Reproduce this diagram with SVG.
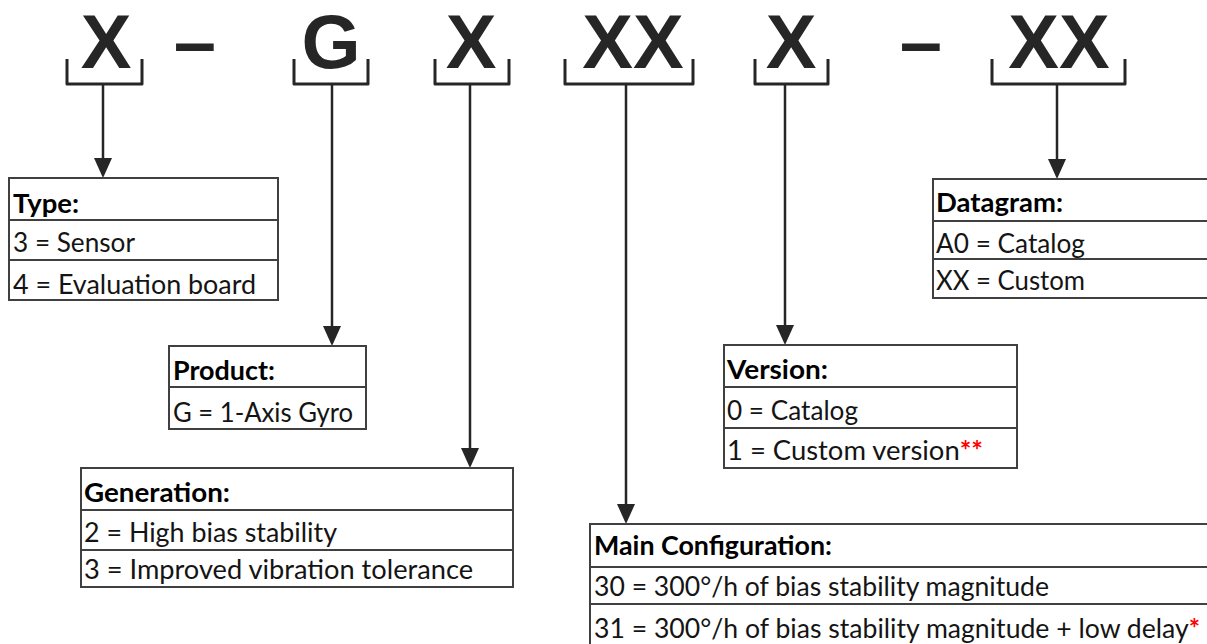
<svg xmlns="http://www.w3.org/2000/svg" width="1207" height="644" viewBox="0 0 1207 644">
<style>
.code{font-family:"Liberation Sans",Arial,sans-serif;font-weight:bold;font-size:76px;fill:#262626;text-anchor:middle}
.br{fill:none;stroke:#262626;stroke-width:3;stroke-linejoin:round}
.conn{stroke:#262626;stroke-width:2.5;fill:none}
.box{fill:#fff;stroke:#404040;stroke-width:2}
.dv{stroke:#404040;stroke-width:2}
.t{font-family:Lato,"Open Sans",sans-serif;font-size:27px;fill:#141414}
.h{font-weight:bold;fill:#000}
.red{fill:#ff0000;font-weight:bold}
</style>
<defs>
<marker id="ah" markerUnits="userSpaceOnUse" markerWidth="20" markerHeight="18" refX="0" refY="9" orient="auto" viewBox="0 0 20 18">
<path d="M0,0 L20,9 L0,18 Z" fill="#262626"/>
</marker>
</defs>
<rect width="1207" height="644" fill="#fff"/>

<g id="code">
<text class="code" x="106" y="68">X</text>
<text class="code" x="195" y="68">–</text>
<text class="code" x="331" y="68">G</text>
<text class="code" x="471" y="68">X</text>
<text class="code" x="633" y="68">XX</text>
<text class="code" x="791" y="68">X</text>
<text class="code" x="921" y="68">–</text>
<text class="code" x="1059" y="68">XX</text>
<path class="br" d="M67,59 V84 H142 V59"/>
<path class="br" d="M294,59 V84 H368 V59"/>
<path class="br" d="M435,59 V84 H509 V59"/>
<path class="br" d="M565,59 V84 H693 V59"/>
<path class="br" d="M755,59 V84 H828 V59"/>
<path class="br" d="M992,59 V84 H1125 V59"/>
</g>

<g id="connectors">
<line class="conn" x1="103" y1="84" x2="103" y2="158" marker-end="url(#ah)"/>
<line class="conn" x1="332" y1="84" x2="332" y2="326" marker-end="url(#ah)"/>
<line class="conn" x1="470" y1="84" x2="470" y2="448" marker-end="url(#ah)"/>
<line class="conn" x1="626" y1="84" x2="626" y2="504" marker-end="url(#ah)"/>
<line class="conn" x1="785" y1="84" x2="785" y2="325" marker-end="url(#ah)"/>
<line class="conn" x1="1057" y1="84" x2="1057" y2="159" marker-end="url(#ah)"/>
</g>

<g id="type">
<rect class="box" x="9" y="178" width="269" height="122"/>
<line class="dv" x1="9" y1="220" x2="278" y2="220"/>
<line class="dv" x1="9" y1="260" x2="278" y2="260"/>
<text class="t h" x="13" y="213" textLength="66" lengthAdjust="spacingAndGlyphs">Type:</text>
<text class="t" x="13" y="252" textLength="122" lengthAdjust="spacingAndGlyphs">3 = Sensor</text>
<text class="t" x="13" y="294" textLength="243" lengthAdjust="spacingAndGlyphs">4 = Evaluation board</text>
</g>

<g id="product">
<rect class="box" x="169" y="346" width="197" height="83"/>
<line class="dv" x1="169" y1="387" x2="366" y2="387"/>
<text class="t h" x="173" y="380" textLength="102" lengthAdjust="spacingAndGlyphs">Product:</text>
<text class="t" x="173" y="422" textLength="180" lengthAdjust="spacingAndGlyphs">G = 1-Axis Gyro</text>
</g>

<g id="generation">
<rect class="box" x="81" y="468" width="432" height="119"/>
<line class="dv" x1="81" y1="510" x2="513" y2="510"/>
<line class="dv" x1="81" y1="550" x2="513" y2="550"/>
<text class="t h" x="84" y="502" textLength="146" lengthAdjust="spacingAndGlyphs">Generation:</text>
<text class="t" x="84" y="542" textLength="253" lengthAdjust="spacingAndGlyphs">2 = High bias stability</text>
<text class="t" x="84" y="579" textLength="389" lengthAdjust="spacingAndGlyphs">3 = Improved vibration tolerance</text>
</g>

<g id="main-configuration">
<rect class="box" x="590" y="524" width="640" height="140"/>
<line class="dv" x1="590" y1="567" x2="1230" y2="567"/>
<line class="dv" x1="590" y1="604" x2="1230" y2="604"/>
<text class="t h" x="594" y="555" textLength="238" lengthAdjust="spacingAndGlyphs">Main Configuration:</text>
<text class="t" x="594" y="596" textLength="455" lengthAdjust="spacingAndGlyphs">30 = 300°/h of bias stability magnitude</text>
<text class="t" x="594" y="638" textLength="606" lengthAdjust="spacingAndGlyphs">31 = 300°/h of bias stability magnitude + low delay<tspan class="red">*</tspan></text>
</g>

<g id="version">
<rect class="box" x="724" y="345" width="293" height="123"/>
<line class="dv" x1="724" y1="387" x2="1017" y2="387"/>
<line class="dv" x1="724" y1="428" x2="1017" y2="428"/>
<text class="t h" x="727" y="379" textLength="101" lengthAdjust="spacingAndGlyphs">Version:</text>
<text class="t" x="727" y="420" textLength="131" lengthAdjust="spacingAndGlyphs">0 = Catalog</text>
<text class="t" x="727" y="460" textLength="256" lengthAdjust="spacingAndGlyphs">1 = Custom version<tspan class="red">**</tspan></text>
</g>

<g id="datagram">
<rect class="box" x="933" y="179" width="300" height="119"/>
<line class="dv" x1="933" y1="221" x2="1233" y2="221"/>
<line class="dv" x1="933" y1="259" x2="1233" y2="259"/>
<text class="t h" x="936" y="212" textLength="127" lengthAdjust="spacingAndGlyphs">Datagram:</text>
<text class="t" x="936" y="253" textLength="149" lengthAdjust="spacingAndGlyphs">A0 = Catalog</text>
<text class="t" x="936" y="290" textLength="149" lengthAdjust="spacingAndGlyphs">XX = Custom</text>
</g>
</svg>
